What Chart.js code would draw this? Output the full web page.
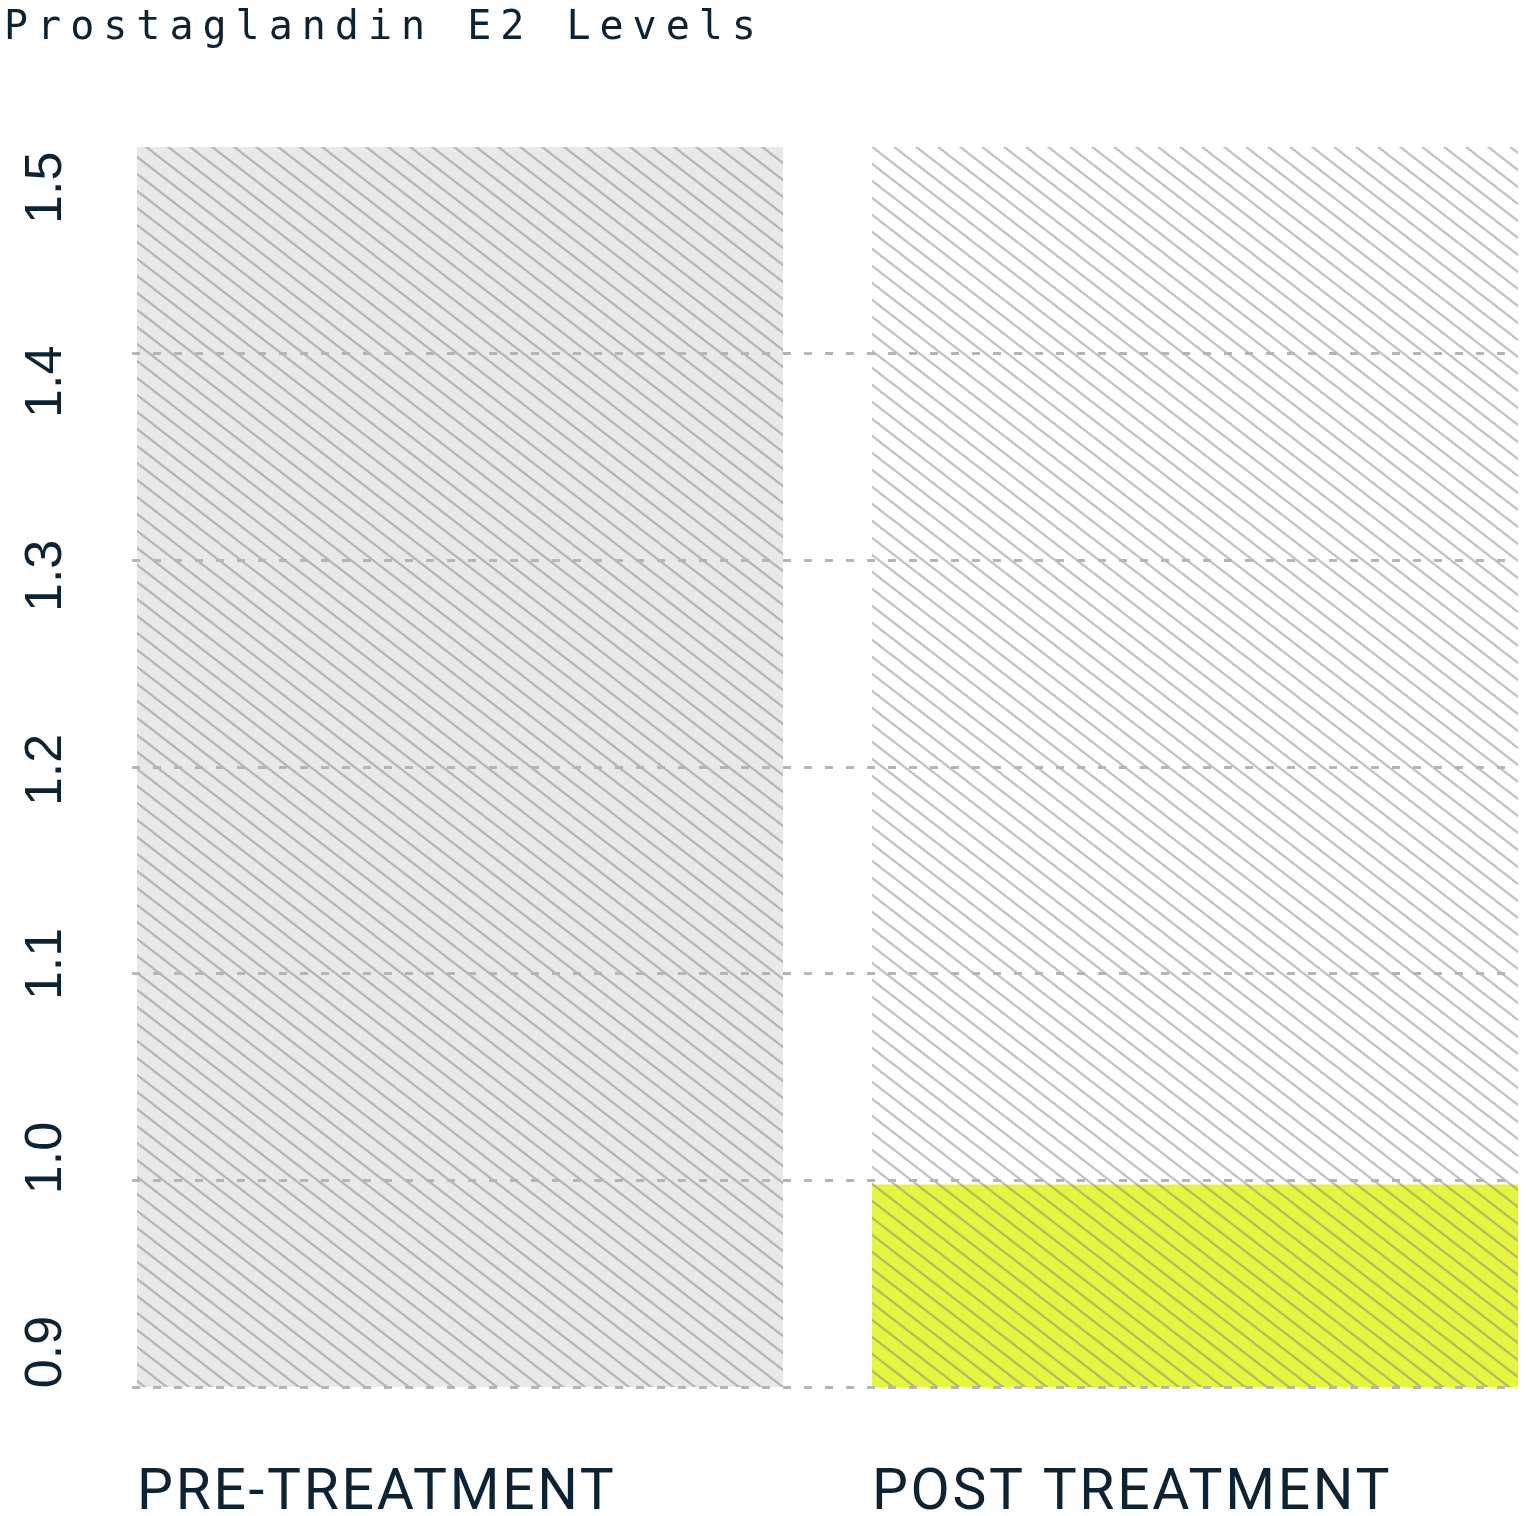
<!DOCTYPE html>
<html lang="en">

<head>
    <meta charset="UTF-8">
    <title>Prostaglandin E2 Levels</title>
    <script src="https://cdn.jsdelivr.net/npm/chart.js"></script>
</head>

<body>
    <div class="title">Prostaglandin E2 Levels</div>
    <div class="chart-container"><canvas id="pgeChart"></canvas></div>
</body>

</html>

<script>
    // chart data
    const categories = ["PRE-TREATMENT", "POST TREATMENT"];
    const levels = [1.5, 0.998];
    const trackLevels = [1.5, 1.5];
    const yTicks = [0.9, 1.0, 1.1, 1.2, 1.3, 1.4, 1.5];

    const textColor = "#0d2233";
    const barPct = 0.879;

    // diagonal hatch, lines going down to the right
    function makeHatch(bg) {
        const w = 22, h = 17;
        const c = document.createElement("canvas");
        c.width = w;
        c.height = h;
        const g = c.getContext("2d");
        if (bg) {
            g.fillStyle = bg;
            g.fillRect(0, 0, w, h);
        }
        g.strokeStyle = "rgba(112, 122, 130, 0.45)";
        g.lineWidth = 2.2;
        [-1, 0, 1].forEach(j => {
            g.beginPath();
            g.moveTo(-w, -h + j * h);
            g.lineTo(2 * w, 2 * h + j * h);
            g.stroke();
        });
        return g.createPattern(c, "repeat");
    }

    const preFill = makeHatch("#e9e9e9");
    const postFill = makeHatch("#e6f53f");
    const trackFill = makeHatch(null);

    // x labels are drawn after the datasets (ticks z: 2), space their letters out
    const spacedLabels = {
        id: "spacedLabels",
        afterDatasetsDraw: chart => { chart.ctx.letterSpacing = "2.7px"; },
        afterDraw: chart => { chart.ctx.letterSpacing = "0px"; }
    };

    const ctx = document.getElementById("pgeChart").getContext("2d");

    new Chart(ctx, {
        type: "bar",
        data: {
            datasets: [
                {
                    label: "Level",
                    data: levels.map((v, i) => ({ x: i, y: v })),
                    backgroundColor: [preFill, postFill],
                    grouped: false,
                    order: 1
                },
                {
                    label: "Scale",
                    data: trackLevels.map((v, i) => ({ x: i, y: v })),
                    backgroundColor: trackFill,
                    grouped: false,
                    order: 2
                }
            ]
        },
        plugins: [spacedLabels],
        options: {
            responsive: true,
            maintainAspectRatio: false,
            animation: false,
            barPercentage: barPct,
            categoryPercentage: 1,
            layout: { padding: { top: 147, right: 10, left: 0, bottom: 0 } },
            plugins: {
                legend: { display: false },
                tooltip: { enabled: false }
            },
            scales: {
                x: {
                    type: "linear",
                    offset: false,
                    min: -0.4463,
                    max: 1.4395,
                    grid: { display: false },
                    border: { display: false },
                    // labels start at the left edge of each bar
                    afterBuildTicks: axis => {
                        axis.ticks = categories.map((c, i) => ({ value: i - barPct / 2 }));
                    },
                    afterFit: axis => { axis.height = 129; },
                    ticks: {
                        z: 2,
                        autoSkip: false,
                        maxRotation: 0,
                        align: "start",
                        padding: 66,
                        color: textColor,
                        font: { family: "Roboto, 'Liberation Sans', sans-serif", size: 57 },
                        callback: (v, i) => categories[i]
                    }
                },
                y: {
                    min: 0.9,
                    max: 1.5,
                    beginAtZero: false,
                    afterBuildTicks: axis => {
                        axis.ticks = yTicks.map(v => ({ value: v }));
                    },
                    ticks: { display: false },
                    grid: {
                        z: 1,
                        drawTicks: false,
                        lineWidth: 3,
                        color: c => c.index === yTicks.length - 1 ? "rgba(0,0,0,0)" : "#b5b5b5"
                    },
                    border: { display: false, dash: [8, 13] }
                },
                // label axis, spreads the rotated numbers along the side
                yLabels: {
                    type: "linear",
                    position: "left",
                    min: 0.882,
                    max: 1.521,
                    afterBuildTicks: axis => {
                        axis.ticks = yTicks.map(v => ({ value: v }));
                    },
                    afterFit: axis => { axis.width = 132; },
                    grid: { display: false },
                    border: { display: false },
                    ticks: {
                        autoSkip: false,
                        minRotation: 90,
                        maxRotation: 90,
                        crossAlign: "center",
                        padding: 41,
                        color: textColor,
                        font: { family: "'Liberation Sans', Arial, sans-serif", size: 52 },
                        callback: v => v.toFixed(1)
                    }
                }
            }
        }
    });
</script>

<style>
    body {
        margin: 0;
        background: white;
        overflow: hidden;
    }

    .chart-container {
        position: relative;
        width: 1528px;
        height: 1516px;
    }

    .title {
        position: absolute;
        left: 4px;
        top: 5px;
        z-index: 1;
        font-family: "DejaVu Sans Mono", monospace;
        font-size: 40px;
        line-height: 1;
        letter-spacing: 9px;
        color: #0d2233;
    }
</style>
